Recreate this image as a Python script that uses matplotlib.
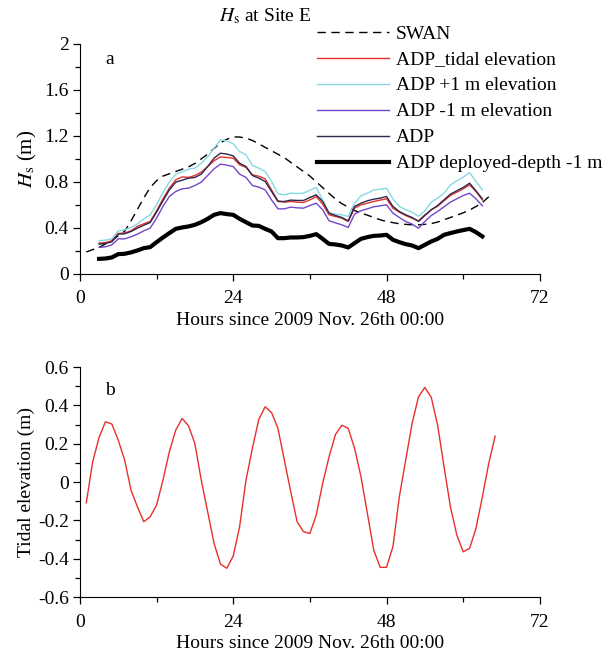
import matplotlib
matplotlib.use("Agg")
import matplotlib.pyplot as plt
import numpy as np
from matplotlib.ticker import MultipleLocator, FuncFormatter

plt.rcParams["font.family"] = ["Liberation Serif", "DejaVu Serif"]
plt.rcParams["mathtext.fontset"] = "stix"
plt.rcParams["axes.unicode_minus"] = False
plt.rcParams["font.size"] = 14

# ---- panel a: Hs at Site E ----
hours_adp = list(range(3, 64))

adp_tidal = [0.267, 0.272, 0.287, 0.351, 0.354, 0.374, 0.412, 0.435, 0.455, 0.548,
             0.652, 0.745, 0.817, 0.843, 0.838, 0.855, 0.884, 0.933, 0.983, 1.017,
             1.012, 1.006, 0.948, 0.925, 0.861, 0.849, 0.826, 0.730, 0.635, 0.623,
             0.629, 0.623, 0.620, 0.643, 0.672, 0.606, 0.513, 0.499, 0.484, 0.455,
             0.571, 0.600, 0.614, 0.629, 0.641, 0.652, 0.571, 0.536, 0.507, 0.484,
             0.461, 0.513, 0.557, 0.588, 0.635, 0.681, 0.710, 0.739, 0.774, 0.716,
             0.643]

adp_plus1 = [0.287, 0.293, 0.304, 0.374, 0.383, 0.403, 0.432, 0.478, 0.513, 0.600,
             0.707, 0.797, 0.867, 0.887, 0.910, 0.919, 0.962, 1.017, 1.093, 1.165,
             1.157, 1.130, 1.064, 1.035, 0.942, 0.919, 0.890, 0.803, 0.696, 0.687,
             0.701, 0.699, 0.701, 0.728, 0.751, 0.643, 0.530, 0.519, 0.513, 0.499,
             0.614, 0.678, 0.701, 0.730, 0.736, 0.745, 0.652, 0.586, 0.557, 0.536,
             0.499, 0.548, 0.623, 0.658, 0.701, 0.774, 0.809, 0.841, 0.881, 0.803,
             0.730]

adp_minus1 = [0.229, 0.235, 0.252, 0.304, 0.304, 0.322, 0.345, 0.374, 0.397, 0.484,
              0.586, 0.672, 0.716, 0.739, 0.745, 0.768, 0.797, 0.855, 0.913, 0.954,
              0.945, 0.933, 0.867, 0.838, 0.768, 0.754, 0.730, 0.643, 0.565, 0.565,
              0.580, 0.574, 0.571, 0.594, 0.614, 0.557, 0.461, 0.443, 0.426, 0.403,
              0.519, 0.548, 0.565, 0.583, 0.591, 0.600, 0.528, 0.490, 0.455, 0.432,
              0.397, 0.455, 0.507, 0.542, 0.583, 0.623, 0.652, 0.681, 0.701, 0.652,
              0.591]

adp = [0.258, 0.264, 0.278, 0.345, 0.348, 0.368, 0.397, 0.423, 0.446, 0.536,
       0.635, 0.730, 0.797, 0.814, 0.832, 0.838, 0.867, 0.933, 1.006, 1.049,
       1.041, 1.026, 0.962, 0.933, 0.855, 0.832, 0.803, 0.716, 0.629, 0.629,
       0.641, 0.638, 0.638, 0.664, 0.687, 0.629, 0.528, 0.507, 0.490, 0.461,
       0.586, 0.614, 0.635, 0.649, 0.658, 0.672, 0.586, 0.542, 0.513, 0.490,
       0.455, 0.507, 0.557, 0.594, 0.643, 0.693, 0.722, 0.751, 0.788, 0.722,
       0.652]

adp_depth = [0.130, 0.133, 0.142, 0.171, 0.174, 0.186, 0.203, 0.223, 0.232, 0.275,
             0.316, 0.354, 0.391, 0.403, 0.412, 0.426, 0.449, 0.478, 0.513, 0.528,
             0.519, 0.513, 0.478, 0.449, 0.420, 0.417, 0.391, 0.368, 0.310, 0.310,
             0.316, 0.316, 0.319, 0.330, 0.345, 0.304, 0.260, 0.255, 0.246, 0.229,
             0.267, 0.304, 0.319, 0.330, 0.333, 0.339, 0.296, 0.275, 0.258, 0.246,
             0.223, 0.252, 0.281, 0.304, 0.339, 0.354, 0.368, 0.380, 0.391, 0.362,
             0.325]

hours_swan = list(range(1, 65))
swan = [0.19, 0.21, 0.23, 0.26, 0.29, 0.33, 0.37, 0.46, 0.56, 0.66,
        0.75, 0.81, 0.85, 0.87, 0.89, 0.91, 0.93, 0.96, 1.00, 1.04,
        1.09, 1.14, 1.17, 1.19, 1.19, 1.18, 1.16, 1.13, 1.10, 1.07,
        1.04, 1.01, 0.97, 0.93, 0.89, 0.85, 0.80, 0.75, 0.70, 0.65,
        0.61, 0.58, 0.55, 0.53, 0.51, 0.49, 0.47, 0.455, 0.445, 0.435,
        0.43, 0.426, 0.426, 0.43, 0.437, 0.45, 0.47, 0.49, 0.51, 0.53,
        0.555, 0.585, 0.62, 0.67]

# ---- panel b: tidal elevation ----
hours_tide = list(range(1, 66))
tide = [-0.108, 0.106, 0.233, 0.315, 0.303, 0.219, 0.115, -0.042, -0.129, -0.207,
        -0.181, -0.120, 0.010, 0.158, 0.271, 0.332, 0.294, 0.200, 0.010, -0.155,
        -0.320, -0.428, -0.450, -0.386, -0.233, 0.010, 0.176, 0.327, 0.393, 0.363,
        0.280, 0.115, -0.050, -0.207, -0.259, -0.268, -0.172, -0.007, 0.132, 0.248,
        0.297, 0.280, 0.176, 0.028, -0.163, -0.355, -0.445, -0.445, -0.337, -0.077,
        0.115, 0.306, 0.445, 0.494, 0.442, 0.297, 0.080, -0.129, -0.276, -0.364,
        -0.346, -0.242, -0.077, 0.097, 0.240]

xlabel = "Hours since 2009 Nov. 26th 00:00"
fmt = FuncFormatter(lambda v, p: "%g" % round(v, 2))


def style_axes(ax):
    ax.spines["top"].set_visible(False)
    ax.spines["right"].set_visible(False)
    ax.set_xlim(0, 72)
    ax.xaxis.set_major_locator(MultipleLocator(24))
    ax.xaxis.set_minor_locator(MultipleLocator(12))
    ax.tick_params(which="major", direction="out", length=5, width=0.9, labelsize=14, pad=3)
    ax.tick_params(which="minor", direction="out", length=3.5, width=0.9)
    ax.tick_params(axis="x", which="major", pad=7)
    ax.yaxis.set_major_formatter(fmt)
    ax.set_xlabel(xlabel, fontsize=14, labelpad=3)


fig = plt.figure(figsize=(6.1, 6.55), dpi=100)

ax1 = fig.add_axes([0.131, 0.582, 0.754, 0.351])
ax1.plot(hours_swan, swan, color="black", lw=1.0, dashes=(6, 4), label="SWAN")
ax1.plot(hours_adp, adp_tidal, color="#e8302a", lw=1.0, label="ADP_tidal elevation")
ax1.plot(hours_adp, adp_plus1, color="#86d9e3", lw=1.0, label="ADP +1 m elevation")
ax1.plot(hours_adp, adp_minus1, color="#7446c8", lw=1.0, label="ADP -1 m elevation")
ax1.plot(hours_adp, adp, color="#2b2750", lw=1.0, label="ADP")
ax1.plot(hours_adp, adp_depth, color="black", lw=3.0, label="ADP deployed-depth -1 m")
style_axes(ax1)
ax1.set_ylim(0, 2)
ax1.yaxis.set_major_locator(MultipleLocator(0.4))
ax1.yaxis.set_minor_locator(MultipleLocator(0.2))
ax1.set_ylabel("$\\mathit{H}_{\\mathrm{s}}$ (m)", fontsize=15, labelpad=4)
ax1.text(4.0, 1.86, "a", fontsize=14, va="center")
fig.text(0.435, 0.976, "$\\mathit{H}_{\\mathrm{s}}$ at Site E", fontsize=14, ha="center", va="center")
ax1.legend(loc="upper left", bbox_to_anchor=(0.52, 0.962), bbox_transform=fig.transFigure,
           frameon=False, fontsize=14, handlelength=3.7, handletextpad=0.35,
           labelspacing=0.43, borderpad=0, borderaxespad=0)

ax2 = fig.add_axes([0.131, 0.0885, 0.754, 0.351])
ax2.plot(hours_tide, tide, color="#e8302a", lw=1.0)
style_axes(ax2)
ax2.set_ylim(-0.6, 0.6)
ax2.yaxis.set_major_locator(MultipleLocator(0.2))
ax2.yaxis.set_minor_locator(MultipleLocator(0.1))
ax2.set_ylabel("Tidal elevation (m)", fontsize=14, labelpad=2)
ax2.text(4.0, 0.48, "b", fontsize=14, va="center")

fig.savefig("out.png", dpi=100)
